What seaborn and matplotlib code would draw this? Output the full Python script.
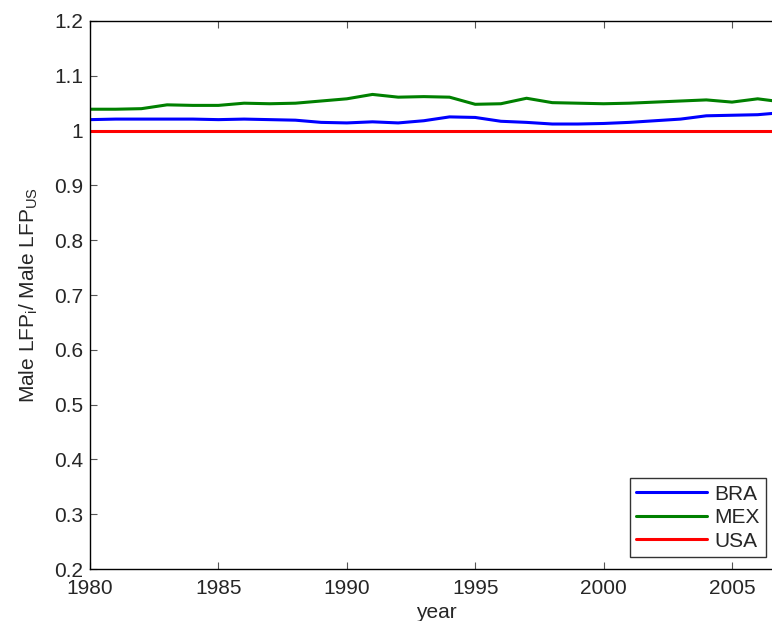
import numpy as np
import pandas as pd
import matplotlib.pyplot as plt
import seaborn as sns

years = list(range(1980, 2008))
bra = [1.020, 1.021, 1.021, 1.021, 1.021, 1.020, 1.021, 1.020, 1.019, 1.015,
       1.014, 1.016, 1.014, 1.018, 1.025, 1.024, 1.017, 1.015, 1.012, 1.012,
       1.013, 1.015, 1.018, 1.021, 1.027, 1.028, 1.029, 1.033]
mex = [1.039, 1.039, 1.040, 1.047, 1.046, 1.046, 1.050, 1.049, 1.050, 1.054,
       1.058, 1.066, 1.061, 1.062, 1.061, 1.048, 1.049, 1.059, 1.051, 1.050,
       1.049, 1.050, 1.052, 1.054, 1.056, 1.052, 1.058, 1.052]
usa = [1.0] * len(years)
countries = ['BRA', 'MEX', 'USA']
colors = ['#0000ff', '#008000', '#ff0000']

df = pd.DataFrame({'year': years * 3,
                   'ratio': bra + mex + usa,
                   'country': np.repeat(countries, len(years))})

sns.set_style('ticks')
plt.rcParams['font.family'] = ['Liberation Sans', 'DejaVu Sans']
plt.rcParams['mathtext.fontset'] = 'custom'
plt.rcParams['mathtext.rm'] = 'Liberation Sans'
plt.rcParams['mathtext.it'] = 'Liberation Sans'
plt.rcParams['mathtext.default'] = 'regular'

FS = 15

fig = plt.figure(figsize=(7.72, 6.21), dpi=100)
# axes runs slightly past the right edge, like the cropped original
ax = fig.add_axes([0.1166, 0.0837, 1.0147 - 0.1166, 0.9662 - 0.0837])
sns.lineplot(data=df, x='year', y='ratio', hue='country', hue_order=countries,
             palette=colors, linewidth=2.2, ax=ax, legend=False)

ax.set_xlim(1980, 2007)
ax.set_ylim(0.2, 1.2)
ax.set_xticks([1980, 1985, 1990, 1995, 2000, 2005])
ax.set_yticks(np.round(np.arange(0.2, 1.21, 0.1), 1))
ax.set_yticklabels(['0.2', '0.3', '0.4', '0.5', '0.6', '0.7', '0.8', '0.9', '1', '1.1', '1.2'])
ax.tick_params(direction='in', length=5, width=0.8, labelsize=FS,
               top=True, right=True, color='#555555')
ax.tick_params(axis='x', pad=7)
ax.tick_params(axis='y', pad=5)
for s in ax.spines.values():
    s.set_linewidth(1.0)
    s.set_color('black')
ax.set_xlabel('year', fontsize=FS, labelpad=4)
ax.set_ylabel('Male LFP$_i$/ Male LFP$_{US}$', fontsize=FS, labelpad=10)

handles = [plt.Line2D([], [], color=c, linewidth=2.2) for c in colors]
leg = fig.legend(handles, countries, loc='lower right',
                 bbox_to_anchor=(766 / 772, 1 - 557 / 621),
                 fontsize=FS, frameon=True, fancybox=False, handlelength=3.4,
                 borderpad=0.3, labelspacing=0.22, handletextpad=0.35,
                 borderaxespad=0)
leg.get_frame().set_edgecolor('black')
leg.get_frame().set_linewidth(1.0)

fig.savefig('out.png', dpi=100)
